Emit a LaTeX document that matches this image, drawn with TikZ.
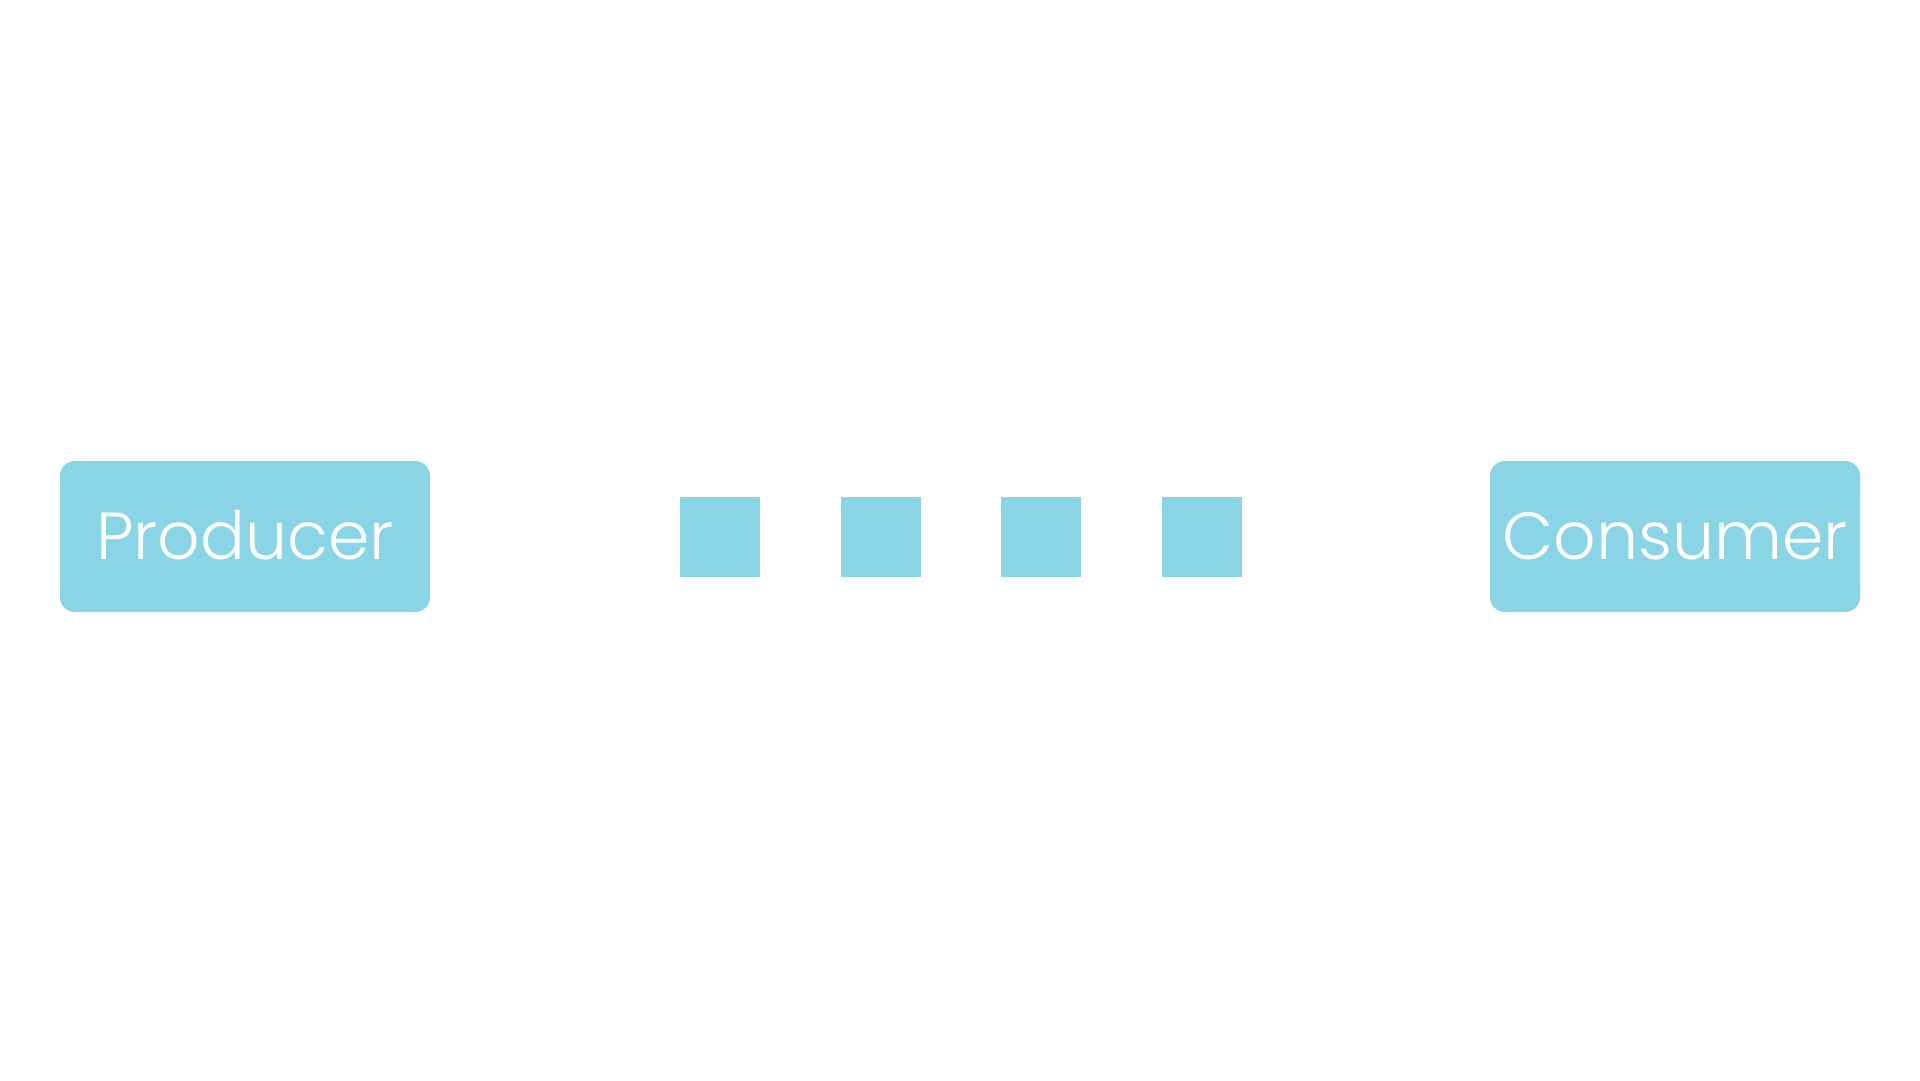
\documentclass[tikz,border=0pt]{standalone}
\usepackage{fontspec}
\setmainfont{Poppins}[UprightFont=* Light]
\usetikzlibrary{positioning}
\definecolor{qblue}{RGB}{137,213,230}

\begin{document}
\begin{tikzpicture}[x=1pt,y=-1pt,node distance=160.5pt]
\tikzstyle{block}=[fill=qblue, rounded corners=15pt, minimum width=370pt, minimum height=151pt, inner sep=0pt, text=white, font=\fontsize{66.5}{72}\selectfont, text height=46pt, text depth=0pt]
\tikzstyle{item}=[fill=qblue, minimum size=80pt, inner sep=0pt]

\useasboundingbox (0,0) rectangle (1920,1080);

\node[block]	(P) at (245,536.5) {Producer};
\node[item]		(M1) at (720,536.5) {};
\node[item]		(M2) [right of=M1] {};
\node[item]		(M3) [right of=M2] {};
\node[item]		(M4) [right of=M3] {};
\node[block]	(C) at (1675,536.5) {Consumer};
\end{tikzpicture}
\end{document}
